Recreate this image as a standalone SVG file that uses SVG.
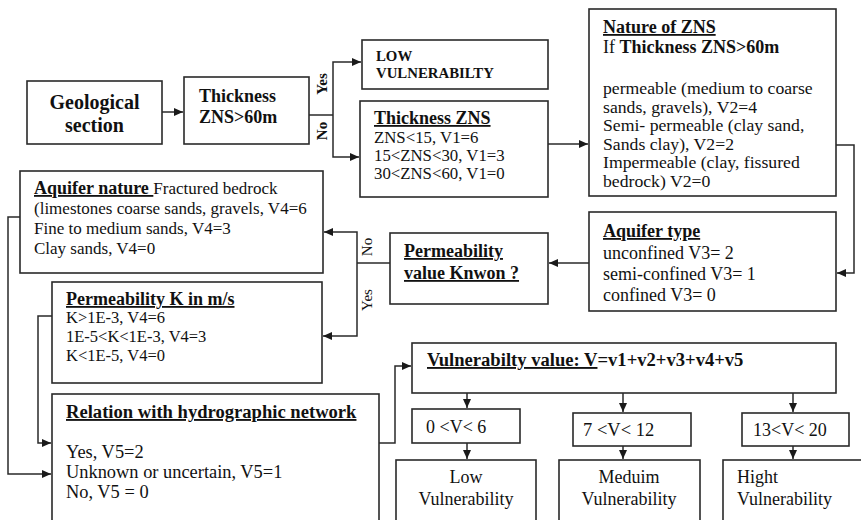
<svg xmlns="http://www.w3.org/2000/svg" width="861" height="520" viewBox="0 0 861 520">
<defs>
<marker id="ah" markerWidth="10" markerHeight="10" refX="9" refY="4" orient="auto" markerUnits="userSpaceOnUse"><path d="M0,0 L9,4 L0,8 z" fill="#1a1a1a"/></marker>
<style>
.box{fill:#fff;stroke:#2a2a2a;stroke-width:1.6}
.t{font-family:"Liberation Serif","Times New Roman",serif;fill:#111}
.b{font-weight:bold}
.u{text-decoration:underline}
.c{stroke:#2a2a2a;stroke-width:1.5;fill:none}
.a{marker-end:url(#ah)}
</style>
</defs>
<rect width="861" height="520" fill="#fff"/>
<g id="connectors">
<path class="c a" d="M162,112 H183"/>
<path class="c" d="M309,115 H333"/>
<path class="c a" d="M333,115 V62 H361"/>
<path class="c a" d="M333,115 V157 H359"/>
<path class="c a" d="M548,144 H588"/>
<path class="c a" d="M836,145 H854 V273 H837"/>
<path class="c a" d="M589,263 H549"/>
<path class="c" d="M390,263 H357"/>
<path class="c a" d="M357,263 V232 H324"/>
<path class="c a" d="M357,263 V336 H323"/>
<path class="c a" d="M20,217 H8 V474 H51"/>
<path class="c a" d="M52,316 H38 V443 H51"/>
<path class="c a" d="M379,443 H395 V366 H411"/>
<path class="c a" d="M467,393 V408"/>
<path class="c a" d="M623,393 V412"/>
<path class="c a" d="M793,393 V412"/>
<path class="c a" d="M467,443 V459"/>
<path class="c a" d="M623,446 V459"/>
<path class="c a" d="M793,446 V459"/>
<text class="t b" font-size="15" transform="rotate(-90 327 84)" x="327" y="84" text-anchor="middle">Yes</text>
<text class="t b" font-size="15" transform="rotate(-90 327 131)" x="327" y="131" text-anchor="middle">No</text>
<text class="t" font-size="15" transform="rotate(-90 372 247)" x="372" y="247" text-anchor="middle">No</text>
<text class="t" font-size="15" transform="rotate(-90 372 300)" x="372" y="300" text-anchor="middle">Yes</text>
</g>
<g id="geological">
<rect class="box" x="27" y="81" width="135" height="63"/>
<text class="t b" font-size="20" x="94.5" y="109" text-anchor="middle">Geological</text>
<text class="t b" font-size="20" x="94.5" y="132" text-anchor="middle">section</text>
</g>
<g id="thickness60">
<rect class="box" x="184" y="77" width="125" height="67"/>
<text class="t b" font-size="18" x="199" y="102">Thickness</text>
<text class="t b" font-size="18" x="199" y="123">ZNS&gt;60m</text>
</g>
<g id="lowvuln">
<rect class="box" x="362" y="40" width="186" height="49"/>
<text class="t b" font-size="14.8" x="376" y="61">LOW</text>
<text class="t b" font-size="14.8" x="376" y="78">VULNERABILTY</text>
</g>
<g id="thicknesszns">
<rect class="box" x="360" y="101" width="188" height="96"/>
<text class="t b u" font-size="18" x="374" y="124">Thickness ZNS</text>
<text class="t" font-size="16.8" x="374" y="143">ZNS&lt;15, V1=6</text>
<text class="t" font-size="16.8" x="374" y="161">15&lt;ZNS&lt;30, V1=3</text>
<text class="t" font-size="16.8" x="374" y="179">30&lt;ZNS&lt;60, V1=0</text>
</g>
<g id="naturezns">
<rect class="box" x="589" y="9" width="247" height="187"/>
<text class="t b u" font-size="18" x="603" y="33">Nature of ZNS</text>
<text class="t" font-size="18" x="603" y="53">If <tspan class="b">Thickness ZNS&gt;60m</tspan></text>
<text class="t" font-size="17.7" x="603" y="94">permeable (medium to coarse</text>
<text class="t" font-size="17.7" x="603" y="112.5">sands, gravels), V2=4</text>
<text class="t" font-size="17.7" x="603" y="131">Semi- permeable (clay sand,</text>
<text class="t" font-size="17.7" x="603" y="149.5">Sands clay), V2=2</text>
<text class="t" font-size="17.7" x="603" y="168">Impermeable (clay, fissured</text>
<text class="t" font-size="17.7" x="603" y="186.5">bedrock) V2=0</text>
</g>
<g id="aquifertype">
<rect class="box" x="589" y="212" width="247" height="99"/>
<text class="t b u" font-size="18" x="603" y="237">Aquifer type</text>
<text class="t" font-size="18" x="603" y="259">unconfined V3= 2</text>
<text class="t" font-size="18" x="603" y="280">semi-confined V3= 1</text>
<text class="t" font-size="18" x="603" y="301">confined V3= 0</text>
</g>
<g id="permvalue">
<rect class="box" x="390" y="233" width="158" height="71"/>
<text class="t b u" font-size="18" x="404" y="257">Permeability</text>
<text class="t b u" font-size="18" x="404" y="279">value Knwon ?</text>
</g>
<g id="aquifernature">
<rect class="box" x="20" y="171" width="303" height="102"/>
<text class="t" font-size="17" x="34" y="194"><tspan class="b u" font-size="18">Aquifer nature </tspan>Fractured bedrock</text>
<text class="t" font-size="17" x="34" y="214">(limestones coarse sands, gravels, V4=6</text>
<text class="t" font-size="17" x="34" y="234">Fine to medium sands, V4=3</text>
<text class="t" font-size="17" x="34" y="254">Clay sands, V4=0</text>
</g>
<g id="permk">
<rect class="box" x="52" y="282" width="270" height="101"/>
<text class="t b u" font-size="18" x="66" y="305">Permeability K in m/s</text>
<text class="t" font-size="16.5" x="66" y="323">K&gt;1E-3, V4=6</text>
<text class="t" font-size="16.5" x="66" y="342">1E-5&lt;K&lt;1E-3, V4=3</text>
<text class="t" font-size="16.5" x="66" y="361">K&lt;1E-5, V4=0</text>
</g>
<g id="relation">
<rect class="box" x="52" y="394" width="327" height="140"/>
<text class="t b u" font-size="18.6" x="66" y="418">Relation with hydrographic network</text>
<text class="t" font-size="18.4" x="66" y="458">Yes, V5=2</text>
<text class="t" font-size="18.4" x="66" y="478">Unknown or uncertain, V5=1</text>
<text class="t" font-size="18.4" x="66" y="498">No, V5 = 0</text>
</g>
<g id="vulnvalue">
<rect class="box" x="412" y="343" width="424" height="50"/>
<text class="t b" font-size="18.6" x="427" y="366"><tspan class="u">Vulnerabilty value: V</tspan>=v1+v2+v3+v4+v5</text>
</g>
<g id="range1">
<rect class="box" x="412" y="409" width="108" height="34"/>
<text class="t" font-size="18" x="426" y="433">0 &lt;V&lt; 6</text>
</g>
<g id="range2">
<rect class="box" x="573" y="413" width="118" height="33"/>
<text class="t" font-size="18.5" x="583" y="436">7 &lt;V&lt; 12</text>
</g>
<g id="range3">
<rect class="box" x="742" y="413" width="107" height="33"/>
<text class="t" font-size="18" x="753" y="436">13&lt;V&lt; 20</text>
</g>
<g id="lowresult">
<rect class="box" x="396" y="460" width="140" height="70"/>
<text class="t" font-size="18" x="466" y="483" text-anchor="middle">Low</text>
<text class="t" font-size="18" x="466" y="505" text-anchor="middle">Vulnerability</text>
</g>
<g id="mediumresult">
<rect class="box" x="559" y="460" width="141" height="70"/>
<text class="t" font-size="18" x="629" y="483" text-anchor="middle">Meduim</text>
<text class="t" font-size="18" x="629" y="505" text-anchor="middle">Vulnerability</text>
</g>
<g id="highresult">
<rect class="box" x="723" y="460" width="142" height="70"/>
<text class="t" font-size="18" x="737" y="483">Hight</text>
<text class="t" font-size="18" x="737" y="505">Vulnerability</text>
</g>
</svg>
